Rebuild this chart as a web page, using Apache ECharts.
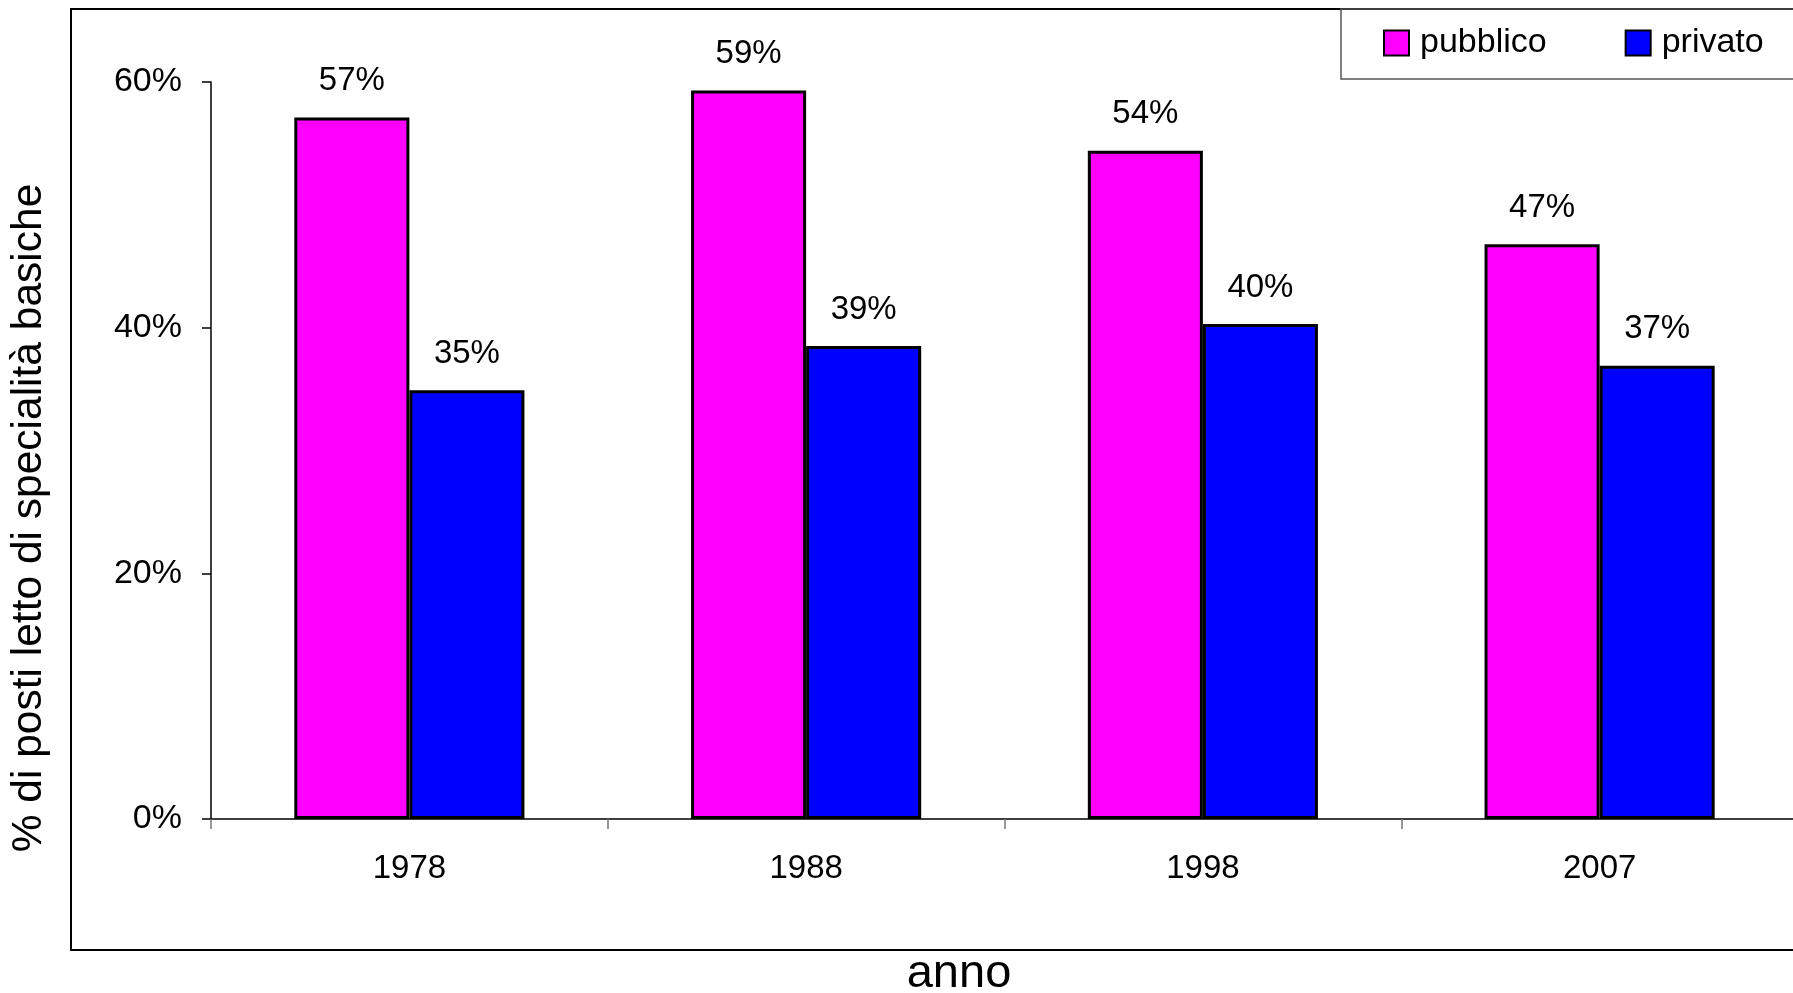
<!DOCTYPE html>
<html>
<head>
<meta charset="utf-8">
<script src="https://cdn.jsdelivr.net/npm/echarts@6/dist/echarts.min.js"></script>
<style>
html,body{margin:0;padding:0;background:#fff;}
#chart{width:1793px;height:993px;}
</style>
</head>
<body>
<div id="chart"></div>
<script>
const categories = ['1978', '1988', '1998', '2007'];
const pubblico = [57.1, 59.3, 54.4, 46.8];
const privato = [34.9, 38.5, 40.3, 36.9];
const seriesNames = ['pubblico', 'privato'];
const yTicks = { min: 0, max: 60, interval: 20 };
const yTitle = '% di posti letto di specialità basiche';
const xTitle = 'anno';

const FONT = 'Liberation Sans, Arial, sans-serif';
const chart = echarts.init(document.getElementById('chart'), null, { renderer: 'canvas' });

const labelCfg = {
  show: true,
  position: 'top',
  distance: 20,
  color: '#000',
  fontFamily: FONT,
  fontSize: 33,
  formatter: p => Math.round(p.value) + '%'
};

chart.setOption({
  backgroundColor: '#fff',
  animation: false,
  grid: { left: 211, width: 1587, top: 82, bottom: 174, containLabel: false, outerBoundsMode: 'none' },
  legend: {
    data: seriesNames,
    left: 1383,
    top: 26,
    padding: 0,
    itemWidth: 25,
    itemHeight: 25,
    itemGap: 78,
    icon: 'rect',
    itemStyle: { borderColor: '#000', borderWidth: 2 },
    textStyle: { fontFamily: FONT, fontSize: 34, color: '#000', padding: [0, 0, 0, 6] }
  },
  xAxis: {
    type: 'category',
    data: categories,
    axisLine: { show: true, lineStyle: { color: '#000', width: 1.5 } },
    axisTick: { show: true, length: 10, alignWithLabel: false, lineStyle: { color: '#777', width: 1.5 } },
    axisLabel: { color: '#000', fontFamily: FONT, fontSize: 33, margin: 33 },
    splitLine: { show: false }
  },
  yAxis: {
    type: 'value',
    min: yTicks.min,
    max: yTicks.max,
    interval: yTicks.interval,
    axisLine: { show: true, lineStyle: { color: '#000', width: 1.5 } },
    axisTick: { show: true, length: 9, inside: false, lineStyle: { color: '#000', width: 1.5 } },
    axisLabel: { color: '#000', fontFamily: FONT, fontSize: 34, margin: 29, formatter: '{value}%' },
    splitLine: { show: false }
  },
  series: [
    {
      name: seriesNames[0],
      type: 'bar',
      data: pubblico,
      barGap: '0%',
      barCategoryGap: '42%',
      itemStyle: { color: '#FF00FF', borderColor: '#000', borderWidth: 3 },
      label: labelCfg
    },
    {
      name: seriesNames[1],
      type: 'bar',
      data: privato,
      barGap: '0%',
      barCategoryGap: '42%',
      itemStyle: { color: '#0000FF', borderColor: '#000', borderWidth: 3 },
      label: labelCfg
    }
  ],
  graphic: [
    {
      type: 'rect',
      z: -10,
      shape: { x: 71, y: 9, width: 1800, height: 941 },
      style: { fill: 'none', stroke: '#000', lineWidth: 2 }
    },
    {
      type: 'rect',
      z: -10,
      shape: { x: 1341, y: 9, width: 600, height: 70 },
      style: { fill: 'none', stroke: '#555', lineWidth: 1.5 }
    },
    {
      type: 'text',
      x: 29,
      y: 518,
      rotation: Math.PI / 2,
      style: {
        text: yTitle,
        fontFamily: FONT,
        fontSize: 42.5,
        fill: '#000',
        align: 'center',
        verticalAlign: 'middle'
      }
    },
    {
      type: 'text',
      x: 959,
      y: 974,
      style: {
        text: xTitle,
        fontFamily: FONT,
        fontSize: 47,
        fill: '#000',
        align: 'center',
        verticalAlign: 'middle'
      }
    }
  ]
});
</script>
</body>
</html>
